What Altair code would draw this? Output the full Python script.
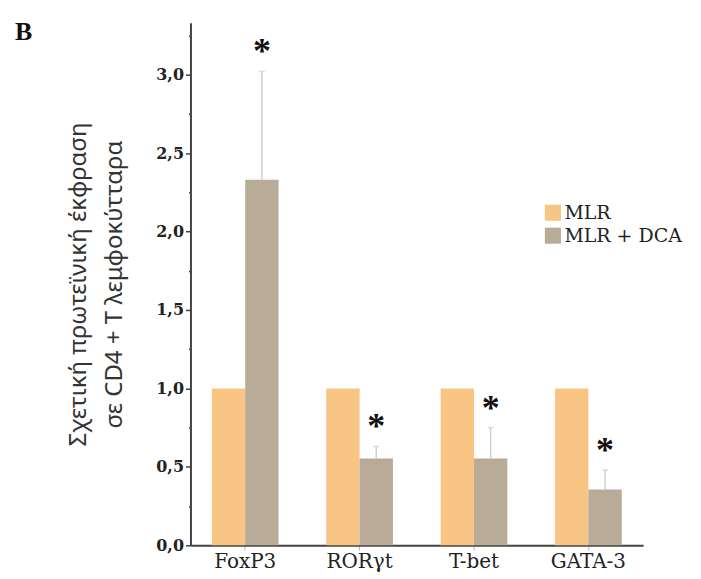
import altair as alt
import pandas as pd

genes = ["FoxP3", "RORγt", "T-bet", "GATA-3"]
groups = ["MLR", "MLR + DCA"]
mlr_values = [1.0, 1.0, 1.0, 1.0]
dca_values = [2.33, 0.553, 0.553, 0.356]
dca_err_top = [3.02, 0.63, 0.75, 0.48]
sig = ["*", "*", "*", "*"]

rows = []
for g, m in zip(genes, mlr_values):
    rows.append({"gene": g, "group": groups[0], "value": m})
for g, d in zip(genes, dca_values):
    rows.append({"gene": g, "group": groups[1], "value": d})
df = pd.DataFrame(rows)

err = pd.DataFrame({"gene": genes, "group": groups[1], "value": dca_values,
                    "top": dca_err_top, "sig": sig})

colors = ["#F8C585", "#B8AB98"]

x_enc = alt.X("gene:N", sort=genes, title=None,
              scale=alt.Scale(paddingInner=0.417, paddingOuter=0.187),
              axis=alt.Axis(labelFont="DejaVu Serif", labelFontSize=20,
                            labelColor="#222", labelAngle=0, labelPadding=1,
                            tickColor="#bbb", tickSize=5, domainColor="#444",
                            domainWidth=2))
xo = alt.XOffset("group:N", sort=groups, scale=alt.Scale(paddingInner=0, paddingOuter=0))

yscale = alt.Scale(domain=[0, 3.33], nice=False)
tick_vals = [i * 0.25 for i in range(14)]

bars = alt.Chart(df).mark_bar().encode(
    x=x_enc,
    xOffset=xo,
    y=alt.Y("value:Q", scale=yscale,
            title=["Σχετική πρωτεϊνική έκφραση", "σε CD4 + T λεμφοκύτταρα"],
            axis=alt.Axis(values=tick_vals,
                          labelExpr="datum.value % 0.5 == 0 ? replace(format(datum.value, '.1f'), '.', ',') : ''",
                          labelFont="DejaVu Serif", labelFontWeight="bold",
                          labelFontSize=16, labelColor="#222", labelPadding=2,
                          tickSize=alt.condition("datum.value % 0.5 == 0", alt.value(5), alt.value(2)),
                          tickColor="#444", tickWidth=1.5,
                          domainColor="#444", domainWidth=2, grid=False,
                          titleFont="Noto Sans", titleFontSize=24,
                          titleFontWeight="normal", titleColor="#333",
                          titlePadding=29, titleLineHeight=36)),
    color=alt.Color("group:N", sort=groups,
                    scale=alt.Scale(domain=groups, range=colors),
                    legend=alt.Legend(title=None, orient="none", legendX=354,
                                      legendY=181, symbolType="square",
                                      symbolSize=260, symbolStrokeWidth=0,
                                      labelFont="DejaVu Serif",
                                      labelFontSize=19, labelColor="#222",
                                      rowPadding=3, labelOffset=2,
                                      symbolOpacity=1)),
)

rules = alt.Chart(err).mark_rule(color="#cfcfcf", strokeWidth=1.5).encode(
    x=alt.X("gene:N", sort=genes),
    xOffset=alt.XOffset("group:N", sort=groups),
    y="value:Q",
    y2="top:Q",
)

caps = alt.Chart(err).mark_tick(color="#cfcfcf", thickness=1.5, size=6,
                                orient="horizontal").encode(
    x=alt.X("gene:N", sort=genes),
    xOffset=alt.XOffset("group:N", sort=groups),
    y="top:Q",
)

stars = alt.Chart(err).mark_text(font="Liberation Serif", fontWeight="bold",
                                 fontSize=36, color="#111", baseline="bottom",
                                 dy=0).encode(
    x=alt.X("gene:N", sort=genes),
    xOffset=alt.XOffset("group:N", sort=groups),
    y="top:Q",
    text="sig:N",
)

chart = alt.layer(bars, rules, caps, stars).properties(
    width=454, height=524,
    title=alt.TitleParams("B", anchor="start", frame="group", font="Liberation Serif",
                          fontSize=26, fontWeight="bold", color="#111",
                          dx=-176, dy=22, offset=0),
    autosize=alt.AutoSizeParams(type="none"),
    padding={"left": 183, "top": 14, "right": 50, "bottom": 40},
).configure_view(stroke=None)

chart.save("out.html", embed_options={"renderer": "svg", "actions": False})
